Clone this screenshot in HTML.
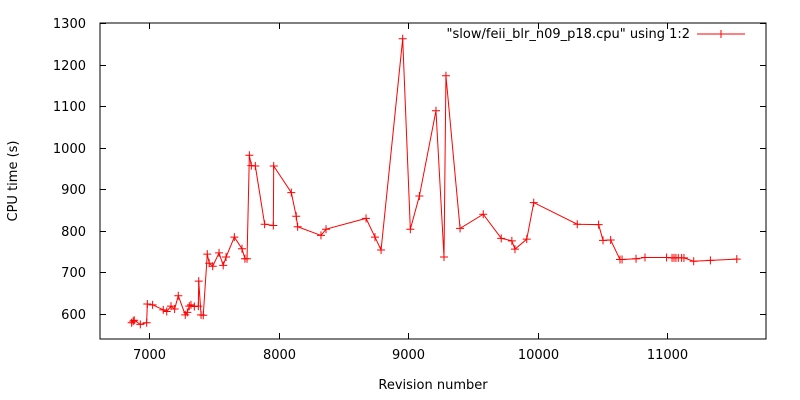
<!DOCTYPE html>
<html><head><meta charset="utf-8"><style>
body{margin:0;background:#fff}
svg{display:block;font-family:"DejaVu Sans","Liberation Sans",sans-serif;font-size:13px}
</style></head><body>
<svg id="chart" width="800" height="400" viewBox="0 0 800 400" xmlns="http://www.w3.org/2000/svg">
<rect x="0" y="0" width="800" height="400" fill="#fff"/>
<g id="axes"></g>
<g id="series"></g>
<g>
<text x="690" y="38" text-anchor="end" fill="#000">"slow/feii_blr_n09_p18.cpu" using 1:2</text>
<line x1="697" y1="34" x2="745" y2="34" stroke="#f00" stroke-width="1"/>
<path d="M717 34h8M721 30v8" stroke="#f00" stroke-width="1"/>
</g>
<text transform="translate(17,181) rotate(-90)" text-anchor="middle" fill="#000">CPU time (s)</text>
<text x="433" y="389" text-anchor="middle" fill="#000">Revision number</text>
</svg>
<script>
const xTicks=[7000,8000,9000,10000,11000];
const yTicks=[600,700,800,900,1000,1100,1200,1300];
const revisions=[6866,6878,6886,6933,6982,6987,7028,7110,7137,7170,7198,7226,7280,7296,7311,7324,7350,7381,7384,7402,7419,7450,7465,7492,7541,7573,7595,7659,7718,7741,7757,7775,7790,7821,7893,7960,7963,8099,8137,8148,8328,8367,8676,8745,8792,8959,9018,9088,9216,9278,9293,9402,9581,9720,9802,9826,9917,9971,10307,10472,10506,10565,10637,10653,10761,10830,10997,11039,11054,11069,11087,11113,11131,11206,11335,11539];
const cpuTimes=[579,583,585,575,579,624,622,610,606,619,612,644,598,604,619,622,618,619,679,598,597,744,722,715,747,717,737,785,757,733,733,982,957,956,816,813,956,892,835,810,789,804,830,785,754,1262,804,884,1089,737,1173,806,840,782,776,756,780,868,816,815,777,778,731,731,733,736,736,735,735,735,735,735,735,727,729,732];
const L=100,R=766,T=23,B=339;
const sx=v=>149+(v-7000)*0.1295;
const sy=v=>314-(v-600)*0.4157;
const NS="http://www.w3.org/2000/svg";
const ax=document.getElementById('axes');
function mk(tag,attrs,parent){const e=document.createElementNS(NS,tag);for(const k in attrs)e.setAttribute(k,attrs[k]);parent.appendChild(e);return e;}
const frame=mk('rect',{x:L,y:T,width:R-L,height:B-T,fill:'none',stroke:'#000','stroke-width':1},ax);


yTicks.forEach(v=>{const y=Math.round(sy(v))+0.5;
const t=mk('path',{d:`M${L} ${y}h6M${R} ${y}h-6`,stroke:'#000','stroke-width':1},ax);


const tx=mk('text',{x:L-14,y:y+4.5,'text-anchor':'end',fill:'#000'},ax);tx.textContent=v;

});
xTicks.forEach(v=>{const x=Math.round(sx(v))+0.5;
const t=mk('path',{d:`M${x} ${B}v-6M${x} ${T}v6`,stroke:'#000','stroke-width':1},ax);


const tx=mk('text',{x:x,y:B+20,'text-anchor':'middle',fill:'#000'},ax);tx.textContent=v;

});
const sg=document.getElementById('series');
const pts=revisions.map((r,i)=>[sx(r),sy(cpuTimes[i])]);
const line=mk('polyline',{points:pts.map(p=>p.join(',')).join(' '),fill:'none',stroke:'#f00','stroke-width':1},sg);


pts.forEach(p=>{const m=mk('path',{d:`M${p[0]-4} ${p[1]}h8M${p[0]} ${p[1]-4}v8`,stroke:'#f00','stroke-width':1},sg);

});
</script>
</body></html>
